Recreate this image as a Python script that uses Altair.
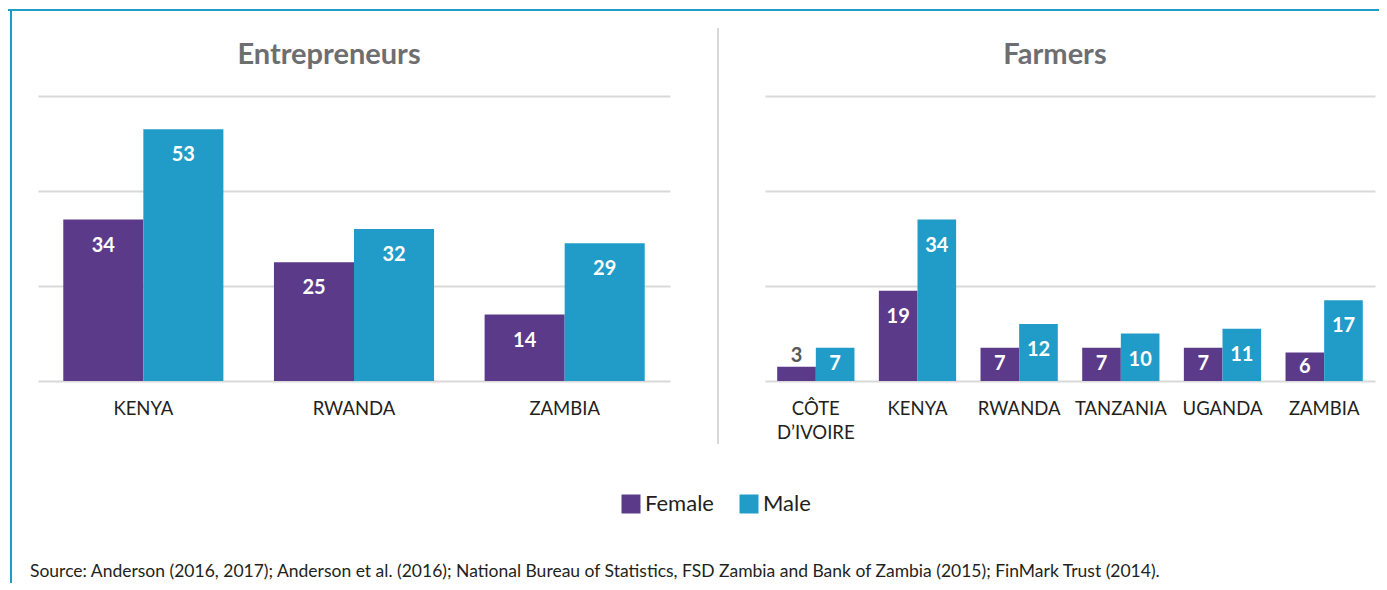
import altair as alt
import pandas as pd

# ---- data ----
ent_countries = ["KENYA", "RWANDA", "ZAMBIA"]
ent_female = [34, 25, 14]
ent_male = [53, 32, 29]

farm_countries = ["CÔTE D’IVOIRE", "KENYA", "RWANDA", "TANZANIA", "UGANDA", "ZAMBIA"]
farm_female = [3, 19, 7, 7, 7, 6]
farm_male = [7, 34, 12, 10, 11, 17]

sexes = ["Female", "Male"]
titles = ["Entrepreneurs", "Farmers"]
source_text = ("Source: Anderson (2016, 2017); Anderson et al. (2016); National Bureau of Statistics, "
               "FSD Zambia and Bank of Zambia (2015); FinMark Trust (2014).")

# ---- style ----
FONT = "Lato"
FEM = "#5C3A8A"
MALE = "#219CC8"
BLUE = "#209CC8"
GRID = "#D9D9D9"
DARK = "#231F20"
TITLE_GRAY = "#6D6E71"
SMALL_GRAY = "#58595B"


def make_df(countries, female, male):
    return pd.DataFrame({
        "country": countries * 2,
        "sex": ["Female"] * len(countries) + ["Male"] * len(countries),
        "value": female + male,
    })


legend = alt.Legend(
    title=None, orient="none", legendX=582, legendY=397, direction="horizontal",
    symbolType="square", symbolSize=361, symbolStrokeWidth=0, symbolOpacity=1,
    labelFontSize=22, labelColor=DARK, labelFont=FONT, labelOffset=3,
    columnPadding=24, padding=0,
)


def panel(countries, female, male, width, title, title_x, extra=None):
    df = make_df(countries, female, male)
    base = alt.Chart(df).encode(
        x=alt.X("country:N", sort=countries,
                scale=alt.Scale(paddingInner=0.24, paddingOuter=0.12),
                axis=alt.Axis(title=None, labelAngle=0, ticks=False, domain=False,
                              labelFontSize=18.5, labelColor=DARK, labelFont=FONT,
                              labelPadding=18, labelLineHeight=24,
                              labelExpr="datum.label == 'CÔTE D’IVOIRE' ? ['CÔTE', 'D’IVOIRE'] : datum.label")),
        xOffset=alt.XOffset("sex:N", sort=sexes),
        y=alt.Y("value:Q", scale=alt.Scale(domain=[0, 60], nice=False),
                axis=alt.Axis(title=None, values=[0, 20, 40, 60], labels=False, ticks=False,
                              domain=False, grid=True, gridColor=GRID, gridWidth=2)),
    )
    bars = base.mark_bar().encode(
        color=alt.Color("sex:N", scale=alt.Scale(domain=sexes, range=[FEM, MALE]), legend=legend)
    )
    big = base.transform_filter("datum.value >= 10").mark_text(
        font=FONT, fontWeight="bold", fontSize=20, color="white", baseline="middle", dy=26
    ).encode(text="value:Q")
    mid = base.transform_filter("datum.value >= 4 && datum.value < 10").transform_calculate(
        half="datum.value / 2"
    ).mark_text(
        font=FONT, fontWeight="bold", fontSize=20, color="white", baseline="middle"
    ).encode(y="half:Q", text="value:Q")
    small = base.transform_filter("datum.value < 4").mark_text(
        font=FONT, fontWeight="bold", fontSize=20, color=SMALL_GRAY, baseline="middle", dy=-11
    ).encode(text="value:Q")

    deco = alt.Chart(pd.DataFrame({"t": [title]})).mark_text(
        font=FONT, fontWeight="bold", fontSize=29, color=TITLE_GRAY, align="center", baseline="middle"
    ).encode(x=alt.value(title_x), y=alt.value(-41), text="t:N")

    layers = [bars, big, mid, small, deco]
    if extra:
        layers += extra
    return alt.layer(*layers).properties(width=width, height=285)


one = pd.DataFrame({"a": [0]})
# top band, left border (left panel coordinates; plot origin at page 38,95)
band = alt.Chart(one).mark_rect(color=BLUE).encode(
    x=alt.value(-30), x2=alt.value(1341), y=alt.value(-87), y2=alt.value(-85))
border = alt.Chart(one).mark_rule(color=BLUE, strokeWidth=2).encode(
    x=alt.value(-27), y=alt.value(-87), y2=alt.value(487))
source = alt.Chart(pd.DataFrame({"s": [source_text]})).mark_text(
    font=FONT, fontSize=17.5, color=DARK, align="left", baseline="middle"
).encode(x=alt.value(-8), y=alt.value(476), text="s:N")
# separator (right panel coordinates)
sep = alt.Chart(one).mark_rule(color=GRID, strokeWidth=2).encode(
    x=alt.value(-47), y=alt.value(-68), y2=alt.value(348))

left = panel(ent_countries, ent_female, ent_male, 632, titles[0], 291, [band, border, source])
right = panel(farm_countries, farm_female, farm_male, 610, titles[1], 290, [sep])

chart = alt.hconcat(left, right, spacing=95, bounds="flush").resolve_scale(
    xOffset="independent", x="independent"
).properties(
    padding=0, background="white"
).configure(font=FONT).configure_view(stroke=None)

chart.save("out.html", embed_options={"renderer": "svg", "actions": False})
